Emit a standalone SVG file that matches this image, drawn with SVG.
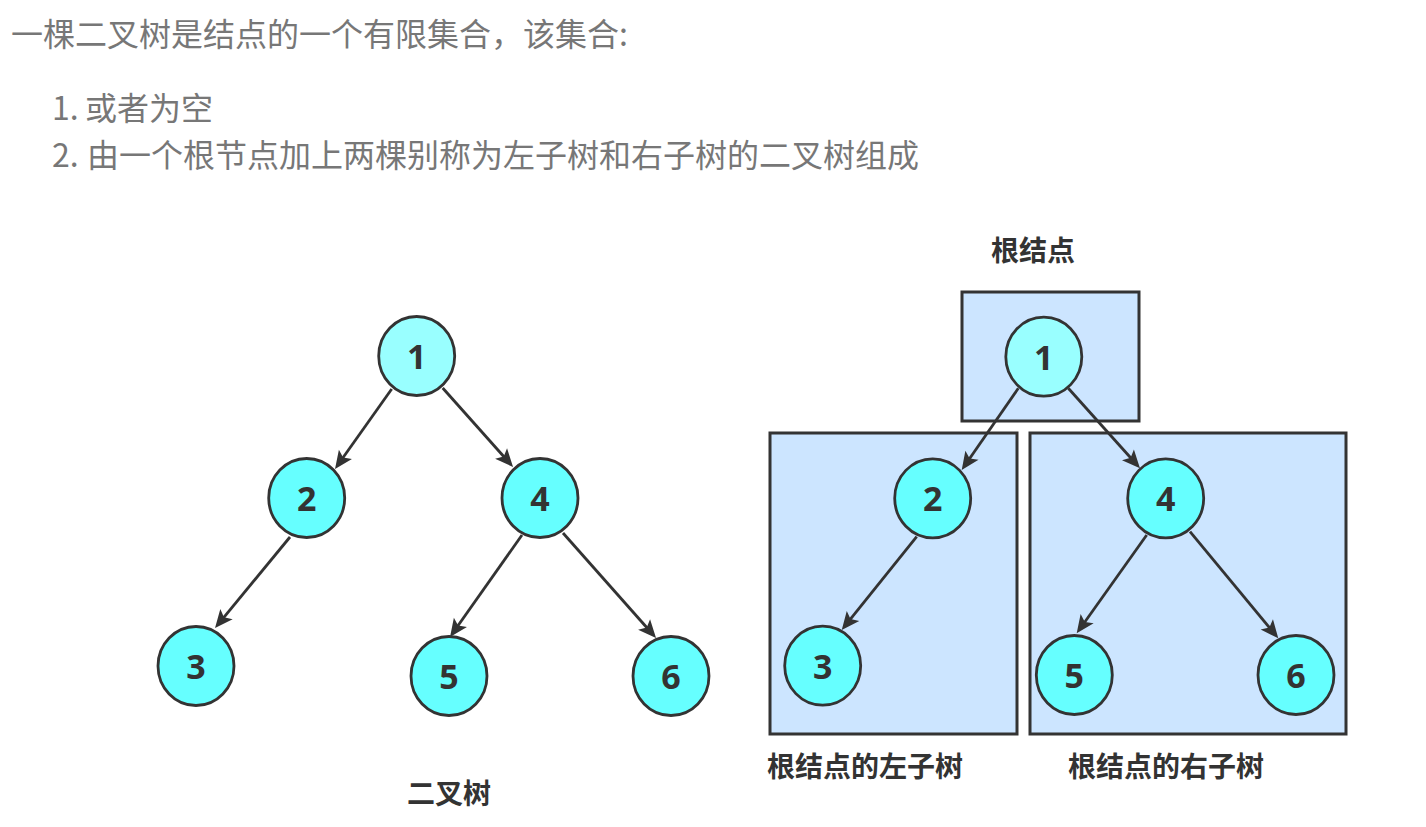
<svg xmlns="http://www.w3.org/2000/svg" width="1426" height="827" viewBox="0 0 1426 827">
<style>
.hd{font-family:"Noto Sans CJK SC","Noto Sans",sans-serif;font-size:32px;fill:#777777}
.lb{font-family:"Noto Sans CJK SC","Noto Sans",sans-serif;font-size:28px;font-weight:bold;fill:#333333;text-anchor:middle}
.nd{stroke:#333333;stroke-width:2.8}
.n1{fill:#99FFFF}
.n2{fill:#66FFFF}
.dg{font-family:"Open Sans","Noto Sans",sans-serif;font-size:34px;font-weight:bold;fill:#333333;text-anchor:middle}
.bx{fill:#CCE5FF;stroke:#333333;stroke-width:3}
.cn{stroke:#333333;stroke-width:2.8;fill:none;marker-end:url(#arr)}
</style>
<defs>
<marker id="arr" markerUnits="userSpaceOnUse" viewBox="-9 -9 20 18" refX="0" refY="0" markerWidth="20" markerHeight="18" orient="auto">
<path d="M10,0 L-8,-8 L-4,0 L-8,8 Z" fill="#333333"/>
</marker>
</defs>
<rect width="1426" height="827" fill="#ffffff"/>
<g id="header">
<text class="hd" x="11" y="46">一棵二叉树是结点的一个有限集合，该集合:</text>
<text class="hd" x="52" y="120">1. <tspan x="85">或者为空</tspan></text>
<text class="hd" x="52" y="167">2. <tspan x="87">由一个根节点加上两棵别称为左子树和右子树的二叉树组成</tspan></text>
</g>
<g id="box-root"><rect class="bx" x="962" y="292" width="177" height="129"/></g>
<g id="box-left"><rect class="bx" x="770" y="433" width="247" height="301"/></g>
<g id="box-right"><rect class="bx" x="1030" y="433" width="316" height="301"/></g>
<g id="connectors">
<line class="cn" x1="391.7" y1="389" x2="340.8" y2="460.8"/>
<line class="cn" x1="442.7" y1="388" x2="506.4" y2="459.5"/>
<line class="cn" x1="290" y1="537" x2="221.4" y2="620.3"/>
<line class="cn" x1="522" y1="535" x2="455.8" y2="628.8"/>
<line class="cn" x1="563" y1="533" x2="649.4" y2="630.5"/>
<line class="cn" x1="1018.3" y1="388.3" x2="967.4" y2="461.8"/>
<line class="cn" x1="1068.3" y1="388.3" x2="1133.3" y2="460.8"/>
<line class="cn" x1="916.7" y1="536.7" x2="848" y2="622.2"/>
<line class="cn" x1="1146.7" y1="535" x2="1082.5" y2="625.2"/>
<line class="cn" x1="1190" y1="531.7" x2="1271.9" y2="630.6"/>
</g>
<g id="L1"><ellipse class="nd n1" cx="416.7" cy="356" rx="38" ry="39.5"/><text class="dg" x="416.7" y="369">1</text></g>
<g id="L2"><ellipse class="nd n2" cx="306.7" cy="498" rx="38" ry="39.5"/><text class="dg" x="306.7" y="511">2</text></g>
<g id="L4"><ellipse class="nd n2" cx="540" cy="498" rx="38" ry="39.5"/><text class="dg" x="540" y="511">4</text></g>
<g id="L3"><ellipse class="nd n2" cx="196" cy="666" rx="38" ry="39.5"/><text class="dg" x="196" y="679">3</text></g>
<g id="L5"><ellipse class="nd n2" cx="449" cy="676" rx="38" ry="39.5"/><text class="dg" x="449" y="689">5</text></g>
<g id="L6"><ellipse class="nd n2" cx="671" cy="676" rx="38" ry="39.5"/><text class="dg" x="671" y="689">6</text></g>
<g id="R1"><ellipse class="nd n1" cx="1043.8" cy="356.7" rx="38" ry="39.5"/><text class="dg" x="1043.8" y="369.7">1</text></g>
<g id="R2"><ellipse class="nd n2" cx="932.7" cy="498.3" rx="38" ry="39.5"/><text class="dg" x="932.7" y="511.3">2</text></g>
<g id="R4"><ellipse class="nd n2" cx="1165.7" cy="498.3" rx="38" ry="39.5"/><text class="dg" x="1165.7" y="511.3">4</text></g>
<g id="R3"><ellipse class="nd n2" cx="822.7" cy="665.7" rx="38" ry="39.5"/><text class="dg" x="822.7" y="678.7">3</text></g>
<g id="R5"><ellipse class="nd n2" cx="1074.3" cy="675" rx="38" ry="39.5"/><text class="dg" x="1074.3" y="688">5</text></g>
<g id="R6"><ellipse class="nd n2" cx="1296" cy="675" rx="38" ry="39.5"/><text class="dg" x="1296" y="688">6</text></g>
<g id="labels">
<text class="lb" x="1033" y="261">根结点</text>
<text class="lb" x="865" y="777">根结点的左子树</text>
<text class="lb" x="1166" y="777">根结点的右子树</text>
<text class="lb" x="449" y="804">二叉树</text>
</g>
</svg>
